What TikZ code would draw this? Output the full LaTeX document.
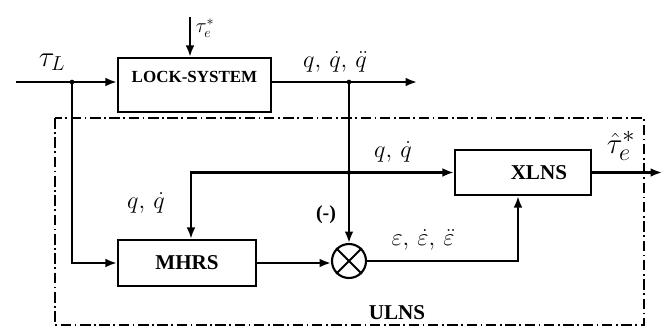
\documentclass[tikz,border=0pt]{standalone}
\usepackage{amsmath,amssymb}
\usepackage{fontspec}
\setmainfont{Liberation Serif}
\usepackage{tikz}
\usetikzlibrary{arrows.meta}

\tikzset{
  blok/.style={draw, line width=2pt, font=\bfseries\fontsize{18}{20}\selectfont},
  sig/.style={line width=1.8pt},
  arr/.style={sig, -{Latex[length=3.4mm,width=2.6mm]}},
  lbl/.style={font=\fontsize{21}{23}\selectfont}
}

\begin{document}
\begin{tikzpicture}[x=0.03cm,y=-0.03cm]
          \useasboundingbox (0,0) rectangle (664,327);
          % ULNS frame
          \draw[line width=1.2pt, dash pattern=on 9pt off 3pt on 1.5pt off 3pt] (55,118) rectangle (644,325);
          \node[font=\bfseries\fontsize{18}{20}\selectfont] (ulns) at (397,313) {ULNS};
          % blocks
          \node[blok, minimum width=4.59cm, minimum height=1.62cm, text height=0.35cm, text depth=0.53cm,
                font=\bfseries\fontsize{14.5}{16}\selectfont] (lock) at (194.5,85) {LOCK-SYSTEM};
          \node[blok, minimum width=4.14cm, minimum height=1.38cm] (mhrs) at (187,263) {MHRS};
          \node[blok, minimum width=4.08cm, minimum height=1.35cm, text width=2.64cm, align=right] (xlns) at (523,172.5) {XLNS};
          \node[draw, circle, sig, minimum size=1.02cm, inner sep=0pt] (sum) at (349,261) {};
          \draw[sig] (sum.45) -- (sum.225) (sum.135) -- (sum.315);
          % points
          \coordinate (tin) at (16,82); \coordinate (jl) at (72,82);
          \coordinate (tes) at (190,17); \coordinate (qout) at (417,82);
          \coordinate (jq) at (349,82); \coordinate (jq2) at (349,172.5);
          \coordinate (tout) at (662,172.5);
          % signals
          \draw[arr] (tin) -- (tin -| lock.west);
          \draw[arr] (tes) -- (tes |- lock.north);
          \draw[arr] (jl) |- (mhrs.west);
          \draw[arr] (lock.east |- tin) -- (qout);
          \draw[arr] (jq) -- (sum.north);
          \draw[arr] (jq2) -- (xlns.west);
          \draw[arr] (jq2) -| ([xshift=0.12cm]mhrs.north);
          \draw[arr] (mhrs.east) -- (mhrs.east -| sum.west);
          \draw[arr] (sum.east) -| ([xshift=-0.15cm]xlns.south);
          \draw[arr] (xlns.east) -- (tout);
          \fill (jl) circle (2pt); \fill (jq) circle (2pt); \fill (jq2) circle (2pt);
          % labels
          \node[font=\fontsize{24}{26}\selectfont] (taul) at (52,62) {$\tau_L$};
          \node[font=\fontsize{17}{19}\selectfont] (taue) at (205,28) {$\tau_{e}^{*}$};
          \node[lbl] (q3) at (335,62) {$q,\,\dot q,\,\ddot q$};
          \node[lbl] (q2a) at (393,152) {$q,\,\dot q$};
          \node[lbl] (q2b) at (146,203) {$q,\,\dot q$};
          \node[font=\bfseries\fontsize{17}{19}\selectfont] (minus) at (326,215) {(-)};
          \node[lbl] (eps) at (423,240) {$\varepsilon,\,\dot\varepsilon,\,\ddot\varepsilon$};
          \node[font=\fontsize{28}{30}\selectfont] (tauhat) at (621,146) {$\hat\tau_e^{*}$};
        \end{tikzpicture}
\end{document}
